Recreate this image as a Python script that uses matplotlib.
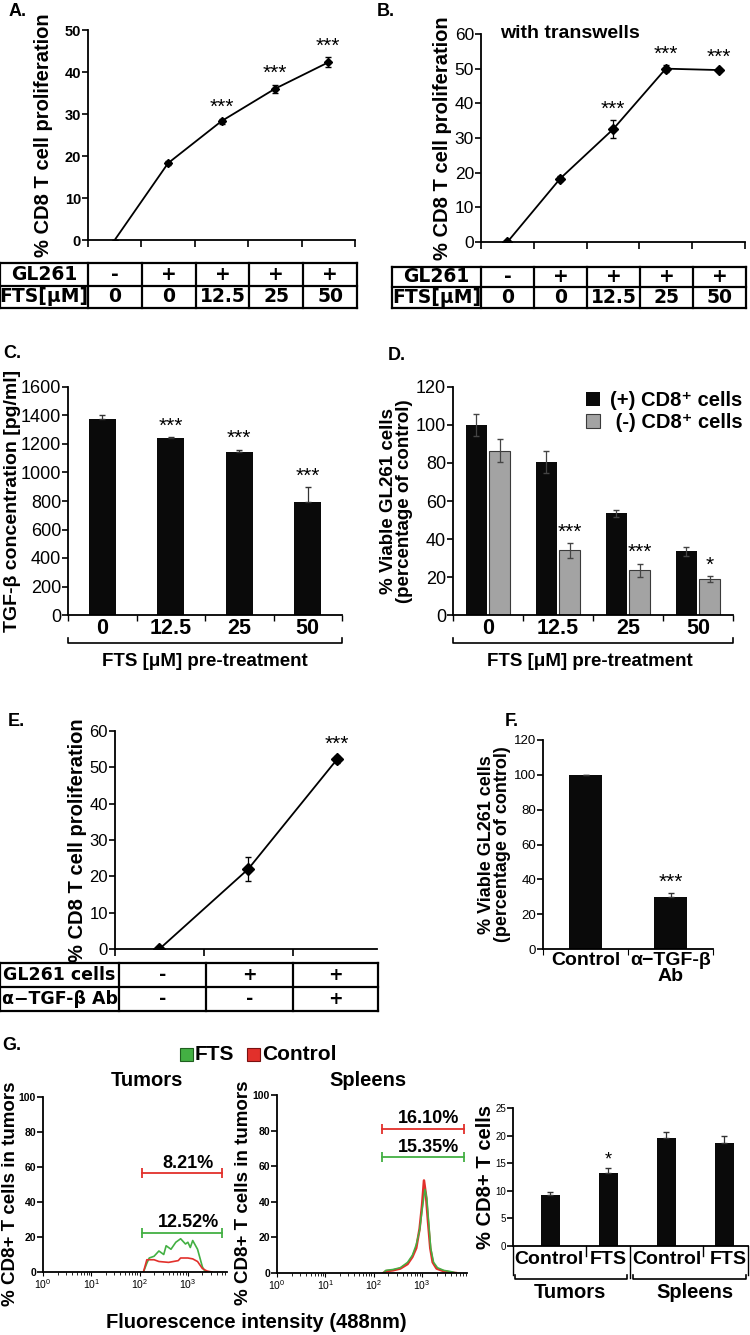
import numpy as np
import matplotlib
matplotlib.use("Agg")
import matplotlib.pyplot as plt
from matplotlib import font_manager
from matplotlib.lines import Line2D
from matplotlib.patches import Rectangle

W, H = 750, 1335
names = {f.name for f in font_manager.fontManager.ttflist}
NARROW = 'Liberation Sans Narrow' if 'Liberation Sans Narrow' in names else 'Liberation Sans'
plt.rcParams['font.family'] = ['Liberation Sans', 'DejaVu Sans']

# ---- data ----
gl261_row = ['-', '+', '+', '+', '+']
fts_row = ['0', '0', '12.5', '25', '50']

a_prolif = [0, 18.3, 28.3, 36.0, 42.3]
a_err = [0, 0.5, 0.6, 1.0, 1.2]
a_stars = ['', '', '***', '***', '***']

b_prolif = [0, 18.3, 32.5, 50.0, 49.6]
b_err = [0.3, 0.6, 2.6, 1.0, 0.4]
b_stars = ['', '', '***', '***', '***']

fts_doses = ['0', '12.5', '25', '50']
c_tgf = [1375, 1240, 1142, 790]
c_err = [25, 10, 18, 108]
c_stars = ['', '***', '***', '***']

d_plus = [100, 80.5, 53.5, 33.5]
d_plus_err = [6, 6, 2, 2.5]
d_minus = [86.5, 34, 23.5, 19]
d_minus_err = [6, 4, 3.5, 1.5]
d_stars = ['', '***', '***', '*']

e_gl261 = ['-', '+', '+']
e_ab = ['-', '-', '+']
e_prolif = [0, 22, 52.2]
e_err = [0.3, 3.2, 1.0]
e_stars = ['', '', '***']

f_groups = ['Control', 'α−TGF-β\nAb']
f_viable = [100, 30]
f_err = [0, 2]
f_stars = ['', '***']

# flow histograms (log10 fluorescence, % of cells)
tum_green_x = [2.08, 2.15, 2.2, 2.3, 2.4, 2.5, 2.55, 2.65, 2.75, 2.85, 2.95, 3.0, 3.05, 3.1, 3.2, 3.3, 3.35, 3.45]
tum_green_y = [0, 5, 8, 9, 12, 10, 15, 13, 17, 19, 16, 17, 14, 18, 13, 3, 0.5, 0]
tum_red_x = [2.08, 2.15, 2.3, 2.4, 2.6, 2.8, 2.85, 3.0, 3.1, 3.2, 3.3, 3.4, 3.5]
tum_red_y = [0, 7, 7, 6, 5.5, 6.5, 8, 8, 7.5, 6, 2, 0.5, 0]
spl_red_x = [2.2, 2.25, 2.4, 2.55, 2.7, 2.8, 2.88, 2.95, 3.0, 3.04, 3.08, 3.12, 3.17, 3.22, 3.3, 3.45, 3.6, 3.7]
spl_red_y = [0, 1, 1.5, 2.5, 5, 9, 14, 25, 38, 52, 44, 30, 14, 6, 2.5, 1, 0.3, 0]
spl_green_x = [2.2, 2.25, 2.4, 2.55, 2.7, 2.8, 2.88, 2.95, 3.0, 3.06, 3.1, 3.14, 3.18, 3.24, 3.32, 3.45, 3.6, 3.7]
spl_green_y = [0, 1.5, 2, 3, 6, 10, 16, 24, 35, 47, 42, 28, 14, 6, 3, 1.5, 0.8, 0]
tum_gates = {'red': (2.06, 3.71, 56.5, '8.21%'), 'green': (2.06, 3.71, 22.5, '12.52%')}
spl_gates = {'red': (2.17, 3.86, 81, '16.10%'), 'green': (2.17, 3.86, 65, '15.35%')}

g_cats = ['Control', 'FTS', 'Control', 'FTS']
g_cd8 = [9.3, 13.2, 19.6, 18.7]
g_err = [0.5, 0.9, 1.1, 1.3]
g_stars = ['', '*', '', '']

GREEN = '#43b043'
RED = '#e2302b'

fig = plt.figure(figsize=(W / 100, H / 100), dpi=100)


def px_ax(x0, y0, x1, y1):
    ax = fig.add_axes([x0 / W, 1 - y1 / H, (x1 - x0) / W, (y1 - y0) / H])
    ax.spines[['top', 'right']].set_visible(False)
    for s in ax.spines.values():
        s.set_linewidth(1.3)
    return ax


def ftext(x, y, s, **kw):
    kw.setdefault('ha', 'center')
    kw.setdefault('va', 'center')
    fig.text(x / W, 1 - y / H, s, **kw)


def fline(xs, ys, lw=1.3, color='black'):
    fig.add_artist(Line2D([x / W for x in xs], [1 - y / H for y in ys], lw=lw, color=color))


def table(cols, rows_y, labels, rows, size=13):
    for y in rows_y:
        fline([cols[0], cols[-1]], [y, y], lw=1.6)
    for x in cols:
        fline([x, x], [rows_y[0], rows_y[-1]], lw=1.6)
    for r, (lab, vals) in enumerate(zip(labels, rows)):
        yc = (rows_y[r] + rows_y[r + 1]) / 2
        ftext((cols[0] + cols[1]) / 2, yc, lab, fontsize=size, fontweight='bold',
              family=['DejaVu Sans'])
        for c, v in enumerate(vals):
            ftext((cols[c + 1] + cols[c + 2]) / 2, yc, v, fontsize=size, fontweight='bold',
                  family=['DejaVu Sans'])


def style_yticks(ax, size, family, weight='normal'):
    ax.tick_params(axis='y', labelsize=size, direction='out', length=4, width=1.2, pad=1)
    for lab in ax.get_yticklabels():
        lab.set_fontfamily(family)
        lab.set_fontweight(weight)


def stars(ax, xs, ys, errs, marks, off=1, size=15):
    for x, y, e, m in zip(xs, ys, errs, marks):
        if m:
            ax.annotate(m, (x, y + e), xytext=(0, off), textcoords='offset points',
                        ha='center', va='bottom', fontsize=size)


def line_panel(ax, vals, errs, marks, ymax, markevery=None, ms=5):
    x = np.arange(len(vals))
    ax.errorbar(x, vals, yerr=errs, fmt='-D', color='black', lw=1.3, ms=ms,
                capsize=2.5, elinewidth=0.9, markevery=markevery)
    ax.set_xlim(-0.5, len(vals) - 0.5)
    ax.set_ylim(0, ymax)
    ax.set_xticks(np.arange(-0.5, len(vals)), [])
    ax.tick_params(axis='x', direction='out', length=5, width=1.2)
    stars(ax, x, vals, errs, marks)
    return x


# ---- A ----
ftext(18, 12, 'A.', fontsize=13, fontweight='bold')
ax = px_ax(88, 30, 355, 240)
line_panel(ax, a_prolif, a_err, a_stars, 50, markevery=[1, 2, 3, 4], ms=4)
ax.set_yticks(range(0, 51, 10))
style_yticks(ax, 10.5, NARROW, 'bold')
ax.set_ylabel('% CD8 T cell proliferation', fontsize=14.5, fontweight='bold', labelpad=8)
table([0] + list(np.linspace(88, 357, 6)), [263, 286, 308], ['GL261', 'FTS[μM]'],
      [gl261_row, fts_row], size=13.5)

# ---- B ----
ftext(386, 12, 'B.', fontsize=13, fontweight='bold')
ax = px_ax(481, 34, 745, 242)
line_panel(ax, b_prolif, b_err, b_stars, 60, ms=5.5)
ax.set_yticks(range(0, 61, 10))
style_yticks(ax, 12.5, 'Liberation Sans')
ax.set_ylabel('% CD8 T cell proliferation', fontsize=14.5, fontweight='bold', labelpad=2)
ftext(570, 33, 'with transwells', fontsize=14, fontweight='bold')
table([392] + list(np.linspace(481, 746, 6)), [267, 287, 308], ['GL261', 'FTS[μM]'],
      [gl261_row, fts_row], size=13.5)


def dose_axis(ax, x0, x1, ybr, ytitle, xc):
    n = len(fts_doses)
    ax.set_xlim(-0.5, n - 0.5)
    ax.set_xticks(np.arange(-0.5, n), [])
    ax.set_xticks(range(n), fts_doses, minor=True)
    ax.tick_params(axis='x', which='major', direction='out', length=4, width=1.0)
    ax.tick_params(axis='x', which='minor', length=0, labelsize=15.5, pad=2)
    for lab in ax.get_xticklabels(minor=True):
        lab.set_fontweight('bold')
    fline([x0, x0, x1, x1], [ybr - 5, ybr, ybr, ybr - 5], lw=1.2)
    ftext(xc, ytitle, 'FTS [μM] pre-treatment', fontsize=13.5, fontweight='bold')


# ---- C ----
ftext(12, 353, 'C.', fontsize=13, fontweight='bold')
ax = px_ax(68, 387, 342, 615)
xc = np.arange(len(c_tgf))
ax.bar(xc, c_tgf, width=0.4, color='#0a0a0a')
ax.errorbar(xc, c_tgf, yerr=[np.zeros(len(c_err)), c_err], fmt='none', ecolor='#333333',
            elinewidth=0.9, capsize=2.5)
ax.set_ylim(0, 1600)
ax.set_yticks(range(0, 1601, 200))
style_yticks(ax, 13, NARROW)
ax.set_ylabel('TGF-β concentration [pg/ml]', fontsize=14, fontweight='bold', labelpad=0)
stars(ax, xc, c_tgf, c_err, c_stars)
dose_axis(ax, 68, 342, 643, 662, 205)

# ---- D ----
ftext(397, 355, 'D.', fontsize=13, fontweight='bold')
ax = px_ax(453, 387, 733, 615)
xd = np.arange(len(d_plus))
ax.bar(xd - 0.165, d_plus, width=0.31, color='#0a0a0a', label='(+) CD8⁺ cells')
ax.bar(xd + 0.165, d_minus, width=0.31, color='#a3a3a3', edgecolor='#3a3a3a', lw=0.8,
       label=' (-) CD8⁺ cells')
ax.errorbar(xd - 0.165, d_plus, yerr=d_plus_err, fmt='none', ecolor='#444444',
            elinewidth=0.9, capsize=2.5)
ax.errorbar(xd + 0.165, d_minus, yerr=d_minus_err, fmt='none', ecolor='#444444',
            elinewidth=0.9, capsize=2.5)
ax.set_ylim(0, 120)
ax.set_yticks(range(0, 121, 20))
style_yticks(ax, 13, NARROW)
ax.set_ylabel('% Viable GL261 cells\n(percentage of control)', fontsize=13.5,
              fontweight='bold', labelpad=2, linespacing=0.95)
stars(ax, xd + 0.165, d_minus, d_minus_err, d_stars)
dose_axis(ax, 453, 733, 643, 662, 590)
ax.legend(loc='upper right', bbox_to_anchor=(1.1, 1.06), frameon=False,
          prop={'weight': 'bold', 'size': 14.5}, handlelength=0.7, handleheight=0.7,
          handletextpad=0.5, labelspacing=0.12)

# ---- E ----
ftext(16, 722, 'E.', fontsize=13, fontweight='bold')
ax = px_ax(115, 731, 377, 949)
line_panel(ax, e_prolif, e_err, e_stars, 60, ms=6)
ax.set_xlim(-0.5, 2.45)
ax.set_yticks(range(0, 61, 10))
style_yticks(ax, 12, NARROW)
ax.set_ylabel('% CD8 T cell proliferation', fontsize=14.5, fontweight='bold', labelpad=2)
table([0, 119, 206, 293, 378], [963, 987, 1011], ['GL261 cells', 'α−TGF-β Ab'],
      [e_gl261, e_ab], size=12.5)

# ---- F ----
ftext(512, 722, 'F.', fontsize=13, fontweight='bold')
ax = px_ax(543, 740, 713, 949)
xf = np.arange(len(f_viable))
ax.bar(xf, f_viable, width=0.39, color='#0a0a0a')
ax.errorbar(xf, f_viable, yerr=[np.zeros(len(f_err)), f_err], fmt='none', ecolor='#333333',
            elinewidth=0.9, capsize=2)
ax.set_xlim(-0.5, 1.5)
ax.set_ylim(0, 120)
ax.set_yticks(range(0, 121, 20))
style_yticks(ax, 9.5, NARROW)
ax.set_xticks([-0.5, 0.5, 1.5], [])
ax.set_xticks(xf, f_groups, minor=True)
ax.tick_params(axis='x', which='major', direction='out', length=4)
ax.tick_params(axis='x', which='minor', length=0, labelsize=14, pad=2)
for lab in ax.get_xticklabels(minor=True):
    lab.set_fontweight('bold')
    lab.set_linespacing(0.95)
ax.set_ylabel('% Viable GL261 cells\n(percentage of control)', fontsize=13,
              fontweight='bold', labelpad=2, linespacing=0.95)
stars(ax, xf, f_viable, f_err, f_stars)

# ---- G histograms ----
ftext(12, 1045, 'G.', fontsize=13, fontweight='bold')
fig.add_artist(Rectangle((180 / W, 1 - 1061 / H), 13 / W, 13 / H, facecolor=GREEN,
                         edgecolor='#1f5f1f', lw=0.8, transform=fig.transFigure))
ftext(195, 1055, 'FTS', fontsize=15, fontweight='bold', ha='left')
fig.add_artist(Rectangle((247 / W, 1 - 1061 / H), 13 / W, 13 / H, facecolor=RED,
                         edgecolor='#7a1010', lw=0.8, transform=fig.transFigure))
ftext(262, 1055, 'Control', fontsize=15, fontweight='bold', ha='left')


def flow_panel(box, title, tx, curves, gates, xmax_log):
    ax = px_ax(*box)
    for xs, ys, col, lw in curves:
        ax.plot(10 ** np.array(xs), ys, color=col, lw=lw)
    for col, (lo, hi, y, lab) in gates.items():
        c = RED if col == 'red' else GREEN
        ax.plot([10 ** lo, 10 ** hi], [y, y], color=c, lw=1.3, marker='|', ms=7, mew=1.3)
        ax.annotate(lab, (10 ** ((lo + hi) / 2 + 0.12), y), xytext=(0, 1),
                    textcoords='offset points', ha='center', va='bottom',
                    fontsize=13, fontweight='bold')
    ax.set_xscale('log')
    ax.set_xlim(1, 10 ** xmax_log)
    ax.set_ylim(0, 100)
    ax.set_yticks(range(0, 101, 20))
    style_yticks(ax, 7.5, NARROW, 'bold')
    ax.tick_params(axis='x', which='both', direction='out', labelsize=7.5, pad=1)
    ax.tick_params(axis='x', which='major', length=3)
    ax.tick_params(axis='x', which='minor', length=2)
    ax.set_ylabel('% CD8+ T cells in tumors', fontsize=13.5, fontweight='bold')
    # right edge of the rotated label sits just left of the tick labels
    ax.yaxis.set_label_coords(-0.13, 0.45)
    ftext(tx, 1080, title, fontsize=14.5, fontweight='bold')
    return ax


flow_panel((43, 1097, 227, 1272), 'Tumors', 147,
           [(tum_green_x, tum_green_y, GREEN, 1.2), (tum_red_x, tum_red_y, RED, 1.2)],
           tum_gates, 3.81)
flow_panel((277, 1095, 467, 1273), 'Spleens', 368,
           [(spl_red_x, spl_red_y, RED, 1.8), (spl_green_x, spl_green_y, GREEN, 1.1)],
           spl_gates, 3.93)
ftext(256, 1322, 'Fluorescence intensity (488nm)', fontsize=14.5, fontweight='bold')

# ---- G bars ----
ax = px_ax(513, 1108, 748, 1246)
xg = np.arange(len(g_cd8))
ax.bar(xg, g_cd8, width=0.33, color='#0a0a0a')
ax.errorbar(xg, g_cd8, yerr=[np.zeros(len(g_err)), g_err], fmt='none', ecolor='#333333',
            elinewidth=0.9, capsize=2)
ax.set_xlim(-0.64, 3.41)
ax.set_ylim(0, 25)
ax.set_yticks(range(0, 26, 5))
style_yticks(ax, 7, NARROW)
ax.set_xticks([])
ax.set_ylabel('% CD8+ T cells', fontsize=14.5, fontweight='bold', labelpad=0)
stars(ax, xg, g_cd8, g_err, g_stars, off=0, size=13)
# category box under the axis
for x, y1 in [(513, 1275), (586, 1256), (630, 1278), (703, 1256), (748, 1275)]:
    fline([x, x], [1246, y1], lw=1.0)
for x, lab in zip([549, 608, 667, 728], g_cats):
    ftext(x, 1259, lab, fontsize=14, fontweight='bold')
fline([515, 515, 627, 627], [1275, 1279, 1279, 1275], lw=1.2)
fline([633, 633, 746, 746], [1275, 1279, 1279, 1275], lw=1.2)
ftext(570, 1293, 'Tumors', fontsize=14.5, fontweight='bold')
ftext(695, 1293, 'Spleens', fontsize=14.5, fontweight='bold')

fig.savefig('out.png', dpi=100)
